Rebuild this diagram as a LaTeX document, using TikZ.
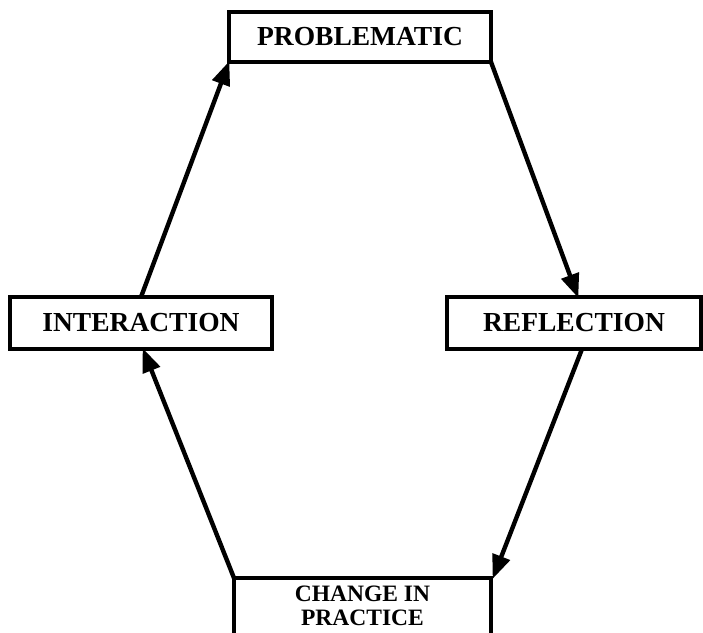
\documentclass[tikz,border=0pt]{standalone}
\usepackage{fontspec}
\setmainfont{Liberation Serif}
\usetikzlibrary{arrows.meta,calc}
\begin{document}
\begin{tikzpicture}[x=1pt,y=-1pt,
  box/.style={draw=black,line width=3.2pt,fill=white,inner sep=0pt,outer sep=0pt,
    font=\fontsize{27.5}{29}\selectfont\bfseries,align=center},
  flow/.style={line width=4.4pt,-{Triangle[length=24pt,width=18pt]},shorten >=-1pt}]
\useasboundingbox (0,0) rectangle (703,632);
\clip (0,0) rectangle (703,632);
\node[box,minimum width=262pt,minimum height=50pt] (prob) at (360,37) {PROBLEMATIC};
\node[box,minimum width=262pt,minimum height=52pt] (inter) at (141,323) {INTERACTION};
\node[box,minimum width=254pt,minimum height=52pt] (refl) at (574,323) {REFLECTION};
\node[box,minimum width=257pt,minimum height=70pt,text depth=14pt,
  font=\fontsize{23.5}{24}\selectfont\bfseries] (chg) at (362.5,613) {CHANGE IN\\PRACTICE};
\draw[flow] (inter.north) -- (prob.south west);
\draw[flow] (prob.south east) -- ($(refl.north)+(4,0)$);
\draw[flow] ($(refl.south)+(8,0)$) -- ($(chg.north east)+(2,0)$);
\draw[flow] (chg.north west) -- ($(inter.south)+(2,0)$);
\end{tikzpicture}
\end{document}
